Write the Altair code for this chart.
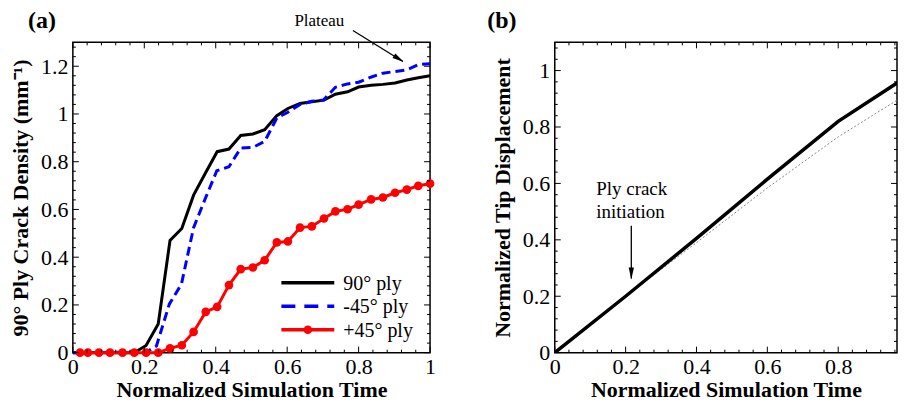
import altair as alt
import pandas as pd

FONT = "Liberation Serif"

# ---------------- Panel (a) data ----------------
ply90_x = [0, 0.172, 0.205, 0.239, 0.272, 0.305, 0.338, 0.372, 0.404, 0.437, 0.470, 0.504,
           0.537, 0.571, 0.602, 0.636, 0.669, 0.703, 0.735, 0.769, 0.800, 0.835, 0.868,
           0.902, 0.935, 0.967, 1.0]
ply90_y = [0, 0, 0.03, 0.12, 0.47, 0.52, 0.66, 0.755, 0.842, 0.853, 0.91, 0.916,
           0.934, 0.993, 1.023, 1.044, 1.051, 1.058, 1.083, 1.093, 1.113, 1.12, 1.124,
           1.13, 1.142, 1.152, 1.16]

plym45_x = [0, 0.207, 0.234, 0.27, 0.304, 0.338, 0.372, 0.403, 0.437, 0.47, 0.504, 0.537,
            0.571, 0.602, 0.635, 0.669, 0.702, 0.735, 0.769, 0.8, 0.834, 0.868, 0.902,
            0.935, 0.967, 1.0]
plym45_y = [0, 0.003, 0.028, 0.203, 0.287, 0.524, 0.65, 0.762, 0.779, 0.857, 0.86, 0.885,
            0.983, 1.007, 1.039, 1.053, 1.059, 1.112, 1.126, 1.133, 1.154, 1.171, 1.178,
            1.185, 1.207, 1.21]

plyp45_x = [0.02, 0.042, 0.073, 0.104, 0.139, 0.172, 0.205, 0.239, 0.272, 0.305, 0.338,
            0.372, 0.404, 0.437, 0.470, 0.504, 0.537, 0.571, 0.602, 0.636, 0.669, 0.703,
            0.735, 0.769, 0.800, 0.835, 0.868, 0.902, 0.935, 0.967, 1.0]
plyp45_y = [0, 0, 0, 0, 0, 0, 0, 0, 0.018, 0.031, 0.087,
            0.171, 0.192, 0.283, 0.35, 0.357, 0.387, 0.462, 0.466, 0.524, 0.529, 0.562,
            0.592, 0.601, 0.62, 0.642, 0.65, 0.67, 0.683, 0.699, 0.708]

legend_labels = ["90° ply", "-45° ply", "+45° ply"]
legend_colors = ["#000000", "#0000ff", "#ff0000"]

# annotation "Plateau"
plateau_text_xy = (0.76, 1.37)
plateau_arrow_x = [0.784, 0.924]
plateau_arrow_y = [1.35, 1.22]

# ---------------- Panel (b) data ----------------
tip_x = [0, 0.2, 0.4, 0.6, 0.8, 0.966, 1.0]
tip_y = [0, 0.2, 0.405, 0.615, 0.82, 0.956, 0.99]
ref_x = [0, 0.2, 0.4, 0.6, 0.8, 0.966, 1.0]
ref_y = [0, 0.2, 0.39, 0.584, 0.765, 0.895, 0.925]

init_text_x = 0.117
init_text_y = [0.559, 0.478]
init_text = ["Ply crack", "initiation"]
init_arrow_x = [0.216, 0.216]
init_arrow_y = [0.45, 0.263]

# ticks
a_x_major = [0, 0.2, 0.4, 0.6, 0.8, 1.0]
a_x_minor = [round(0.04 * i, 2) for i in range(1, 25) if i % 5 != 0]
a_y_major = [0, 0.2, 0.4, 0.6, 0.8, 1.0, 1.2]
a_y_minor = [round(0.04 * i, 2) for i in range(1, 33) if i % 5 != 0]
b_x_major = [0, 0.2, 0.4, 0.6, 0.8]
b_x_minor = [round(0.04 * i, 2) for i in range(1, 25) if i % 5 != 0]
b_y_major = [0, 0.2, 0.4, 0.6, 0.8, 1.0]
b_y_minor = [round(0.04 * i, 2) for i in range(1, 28) if i % 5 != 0]

A_W, A_H = 358, 311
B_W, B_H = 343, 311
A_XDOM, A_YDOM = [0, 1], [0, 1.3]
B_XDOM, B_YDOM = [0, 0.966], [0, 1.1]


def tick_layers(xs_major, xs_minor, ys_major, ys_minor, W, H, xdom, ydom):
    layers = []
    xsc = alt.Scale(domain=xdom, nice=False, zero=False)
    ysc = alt.Scale(domain=ydom, nice=False, zero=False)
    xs_minor = [v for v in xs_minor if v <= xdom[1]]
    for vals, L in ((xs_major, 6), (xs_minor, 3)):
        df = pd.DataFrame({"x": vals})
        base = alt.Chart(df).mark_rule(color="black", strokeWidth=1)
        layers.append(base.encode(x=alt.X("x:Q", scale=xsc), y=alt.value(H), y2=alt.value(H - L)))
        layers.append(base.encode(x=alt.X("x:Q", scale=xsc), y=alt.value(0), y2=alt.value(L)))
    for vals, L in ((ys_major, 6), (ys_minor, 3)):
        df = pd.DataFrame({"y": vals})
        base = alt.Chart(df).mark_rule(color="black", strokeWidth=1)
        layers.append(base.encode(y=alt.Y("y:Q", scale=ysc), x=alt.value(0), x2=alt.value(L)))
        layers.append(base.encode(y=alt.Y("y:Q", scale=ysc), x=alt.value(W), x2=alt.value(W - L)))
    return layers


# ---------------- Panel (a) ----------------
a_xscale = alt.Scale(domain=A_XDOM, nice=False, zero=False)
a_yscale = alt.Scale(domain=A_YDOM, nice=False, zero=False)

a_xaxis = alt.Axis(values=a_x_major, format="~g", title="Normalized Simulation Time")
a_yaxis = alt.Axis(values=a_y_major, format="~g", title="90° Ply Crack Density (mm⁻¹)")

df90 = pd.DataFrame({"x": ply90_x, "y": ply90_y})
dfm45 = pd.DataFrame({"x": plym45_x, "y": plym45_y})
dfp45 = pd.DataFrame({"x": plyp45_x, "y": plyp45_y})

line90 = alt.Chart(df90).mark_line(color="black", strokeWidth=3).encode(
    x=alt.X("x:Q", scale=a_xscale, axis=a_xaxis),
    y=alt.Y("y:Q", scale=a_yscale, axis=a_yaxis),
)
linem45 = alt.Chart(dfm45).mark_line(color="#0000ff", strokeWidth=3, strokeDash=[9, 5]).encode(
    x=alt.X("x:Q", scale=a_xscale), y=alt.Y("y:Q", scale=a_yscale))
linep45 = alt.Chart(dfp45).mark_line(color="#ff0000", strokeWidth=3).encode(
    x=alt.X("x:Q", scale=a_xscale), y=alt.Y("y:Q", scale=a_yscale))
ptsp45 = alt.Chart(dfp45).mark_point(color="#ff0000", filled=True, opacity=1, size=75,
                                     shape="circle", clip=False).encode(
    x=alt.X("x:Q", scale=a_xscale), y=alt.Y("y:Q", scale=a_yscale))

# legend (manual, placed inside lower right)
leg_df = pd.DataFrame({"label": legend_labels, "color": legend_colors, "row": [0, 1, 2]})
LEG_X0, LEG_X1, LEG_Y0, LEG_DY = 209, 262, 241, 23.5
leg_lines = []
for i, (lab, col) in enumerate(zip(legend_labels, legend_colors)):
    d = leg_df[leg_df.row == i]
    y = LEG_Y0 + i * LEG_DY
    kw = dict(color=col, strokeWidth=3.5)
    if i == 1:
        kw["strokeDash"] = [14, 9]
    leg_lines.append(alt.Chart(d).mark_rule(**kw).encode(
        x=alt.value(LEG_X0), x2=alt.value(LEG_X1), y=alt.value(y)))
    leg_lines.append(alt.Chart(d).mark_text(align="left", baseline="middle", font=FONT,
                                            fontSize=20, color="black").encode(
        text="label:N", x=alt.value(LEG_X1 + 9), y=alt.value(y + 1)))
leg_pt = alt.Chart(leg_df[leg_df.row == 2]).mark_point(color="#ff0000", filled=True, opacity=1,
                                                      size=75, shape="circle").encode(
    x=alt.value((LEG_X0 + LEG_X1) / 2), y=alt.value(LEG_Y0 + 2 * LEG_DY))

plateau_df = pd.DataFrame({"x": [plateau_text_xy[0]], "y": [plateau_text_xy[1]], "t": ["Plateau"]})
plateau_txt = alt.Chart(plateau_df).mark_text(align="right", baseline="alphabetic", font=FONT,
                                              fontSize=17, color="black").encode(
    x=alt.X("x:Q", scale=a_xscale), y=alt.Y("y:Q", scale=a_yscale), text="t:N")
plat_arrow_df = pd.DataFrame({"x": plateau_arrow_x, "y": plateau_arrow_y})
plat_arrow = alt.Chart(plat_arrow_df).mark_line(color="black", strokeWidth=1.3, clip=False).encode(
    x=alt.X("x:Q", scale=a_xscale), y=alt.Y("y:Q", scale=a_yscale))
plat_head = alt.Chart(plat_arrow_df.iloc[[1]]).mark_point(
    shape="M0,-1L0.45,1L-0.45,1Z", filled=True, color="black", opacity=1, size=140,
    angle=122, clip=False).encode(
    x=alt.X("x:Q", scale=a_xscale), y=alt.Y("y:Q", scale=a_yscale),
    xOffset=alt.value(-4), yOffset=alt.value(-2.5))

a_label = alt.Chart(pd.DataFrame({"t": ["(a)"]})).mark_text(
    font=FONT, fontSize=24, fontWeight="bold", align="center", baseline="top",
    color="black").encode(text="t:N", x=alt.value(-31), y=alt.value(-33))

panel_a = alt.layer(
    line90, linem45, linep45, ptsp45,
    *tick_layers(a_x_major, a_x_minor, a_y_major, a_y_minor, A_W, A_H, A_XDOM, A_YDOM),
    *leg_lines, leg_pt, plateau_txt, plat_arrow, plat_head, a_label,
).properties(width=A_W, height=A_H)

# ---------------- Panel (b) ----------------
b_xscale = alt.Scale(domain=B_XDOM, nice=False, zero=False)
b_yscale = alt.Scale(domain=B_YDOM, nice=False, zero=False)
b_xaxis = alt.Axis(values=b_x_major, format="~g", title="Normalized Simulation Time")
b_yaxis = alt.Axis(values=b_y_major, format="~g", title="Normalized Tip Displacement")

tip_df = pd.DataFrame({"x": tip_x, "y": tip_y})
ref_df = pd.DataFrame({"x": ref_x, "y": ref_y})

tip_line = alt.Chart(tip_df).mark_line(color="black", strokeWidth=3.5, clip=True).encode(
    x=alt.X("x:Q", scale=b_xscale, axis=b_xaxis),
    y=alt.Y("y:Q", scale=b_yscale, axis=b_yaxis))
ref_line = alt.Chart(ref_df).mark_line(color="#888888", strokeWidth=1, strokeDash=[2, 2],
                                       clip=True).encode(
    x=alt.X("x:Q", scale=b_xscale), y=alt.Y("y:Q", scale=b_yscale))

init_df = pd.DataFrame({"x": [init_text_x] * 2, "y": init_text_y, "t": init_text})
init_txt = alt.Chart(init_df).mark_text(align="left", baseline="alphabetic", font=FONT,
                                        fontSize=19, color="black").encode(
    x=alt.X("x:Q", scale=b_xscale), y=alt.Y("y:Q", scale=b_yscale), text="t:N")
init_arrow_df = pd.DataFrame({"x": init_arrow_x, "y": init_arrow_y})
init_arrow = alt.Chart(init_arrow_df).mark_line(color="black", strokeWidth=1.3).encode(
    x=alt.X("x:Q", scale=b_xscale), y=alt.Y("y:Q", scale=b_yscale))
init_head = alt.Chart(init_arrow_df.iloc[[1]]).mark_point(
    shape="M0,-1L0.45,1L-0.45,1Z", filled=True, color="black", opacity=1, size=140,
    angle=180).encode(
    x=alt.X("x:Q", scale=b_xscale), y=alt.Y("y:Q", scale=b_yscale), yOffset=alt.value(-5))

b_label = alt.Chart(pd.DataFrame({"t": ["(b)"]})).mark_text(
    font=FONT, fontSize=24, fontWeight="bold", align="center", baseline="top",
    color="black").encode(text="t:N", x=alt.value(-53), y=alt.value(-33))

panel_b = alt.layer(
    ref_line, tip_line,
    *tick_layers(b_x_major, b_x_minor, b_y_major, b_y_minor, B_W, B_H, B_XDOM, B_YDOM),
    init_txt, init_arrow, init_head, b_label,
).properties(width=B_W, height=B_H)

chart = alt.hconcat(panel_a, panel_b, spacing=125, bounds="flush").properties(
    padding={"left": 0, "top": 0, "right": 0, "bottom": 0}
).configure_view(
    stroke="black", strokeWidth=1.5
).configure_axis(
    domain=False, ticks=False, grid=False, labelFlush=False, labelOverlap=False,
    labelFont=FONT, labelFontSize=22, labelColor="black", labelPadding=4,
    titleFont=FONT, titleFontSize=22, titleFontWeight="bold", titleColor="black",
).configure_axisX(titlePadding=2).configure_axisY(titlePadding=8, labelPadding=5)

chart.save("out.html", embed_options={"renderer": "svg", "actions": False})
